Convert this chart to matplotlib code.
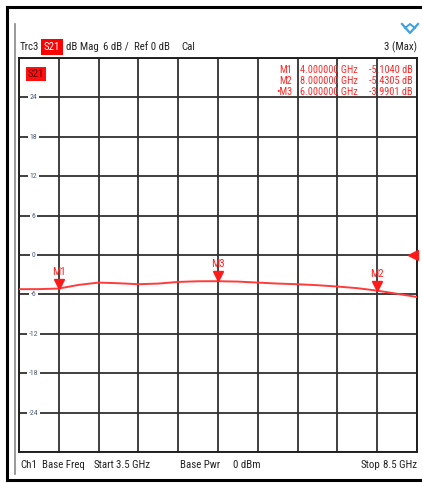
import matplotlib.pyplot as plt
import matplotlib.transforms as mtransforms
from matplotlib import font_manager
from matplotlib.lines import Line2D

# prefer a narrow face if one is installed, else Arial-metric Liberation Sans
installed = {f.name for f in font_manager.fontManager.ttflist}
narrow = next((n for n in ['Liberation Sans Narrow', 'Arial Narrow', 'Roboto Condensed']
               if n in installed), None)
if narrow:
    plt.rcParams['font.family'] = [narrow, 'DejaVu Sans']
    FS = 7.8
else:
    plt.rcParams['font.family'] = ['Liberation Sans', 'DejaVu Sans']
    FS = 6.6

W, H = 422, 483

# trace S21 (dB) vs frequency (GHz)
freq = [3.5, 3.75, 4.0, 4.25, 4.5, 4.75, 5.0, 5.25, 5.5, 5.75, 6.0,
        6.25, 6.5, 6.75, 7.0, 7.25, 7.5, 7.75, 8.0, 8.25, 8.5]
s21 = [-5.2, -5.2, -5.104, -4.55, -4.2, -4.3, -4.45, -4.35, -4.1, -4.0, -3.9901,
       -4.05, -4.2, -4.35, -4.45, -4.6, -4.8, -5.05, -5.4305, -5.9, -6.4]

marker_names = ['M1', 'M2', 'M3']
marker_freq = [4.0, 8.0, 6.0]
marker_val = [-5.1040, -5.4305, -3.9901]

yticks = [24, 18, 12, 6, 0, -6, -12, -18, -24]
f_start, f_stop = 3.5, 8.5
ref_level, db_per_div = 0, 6


def fx(x):
    return x / W


def fy(y):
    return 1 - y / H


fig = plt.figure(figsize=(W / 100, H / 100), dpi=100)
fig.patch.set_facecolor('white')

# instrument frame
fig.add_artist(Line2D([fx(7), fx(7)], [fy(7), fy(480)], color='black', lw=2.2))
fig.add_artist(Line2D([fx(7), fx(422)], [fy(7), fy(7)], color='black', lw=2.2))
fig.add_artist(Line2D([fx(7), fx(422)], [fy(480), fy(480)], color='black', lw=2.2))
fig.add_artist(Line2D([fx(14.5), fx(14.5)], [fy(24), fy(474)], color='#888888', lw=1.2))

ax = fig.add_axes([fx(19), fy(452), (417 - 19) / W, (452 - 58) / H])
ax.set_xlim(f_start, f_stop)
ax.set_ylim(ref_level - 5 * db_per_div, ref_level + 5 * db_per_div)
ax.set_xticks([f_start + i * 0.5 for i in range(11)])
ax.set_yticks([ref_level + i * db_per_div for i in range(-5, 6)])
ax.grid(True, color='#303030', lw=1.3)
ax.tick_params(length=0, labelbottom=False, labelleft=False)
for sp in ax.spines.values():
    sp.set_color('#202020')
    sp.set_linewidth(1.4)

# y tick labels drawn inside the grid
for v in yticks:
    ax.text(3.68, v, str(v), fontsize=5.6, color='#4a5a7a', ha='center', va='center',
            bbox=dict(boxstyle='square,pad=0.2', fc='white', ec='none'), zorder=3)

ax.plot(freq, s21, color='#ff3b3b', lw=1.4, zorder=4)

# markers
tip = mtransforms.offset_copy(ax.transData, fig=fig, x=0, y=3.5, units='points')
for name, f, v in zip(marker_names, marker_freq, marker_val):
    ax.plot([f], [v], marker='v', color='#ff1a1a', ms=7, transform=tip, zorder=5, clip_on=False)
    ax.annotate(name, (f, v), xytext=(0, 8.5), textcoords='offset points',
                ha='center', va='bottom', fontsize=FS, color='#ff2020', zorder=5)

# reference level arrow at right edge
ref_tr = mtransforms.offset_copy(ax.transData, fig=fig, x=-3, y=0, units='points')
ax.plot([f_stop], [ref_level], marker='<', color='#ff1a1a', ms=7, transform=ref_tr,
        clip_on=False, zorder=6)

# trace label box inside diagram
fig.text(fx(36), fy(74), 'S21', fontsize=FS, color='#5a0000', ha='center', va='center',
         bbox=dict(boxstyle='square,pad=0.2', fc='#ff1010', ec='none'), zorder=6)

# marker readout
rows = [('M1', '4.000000 GHz', '-5.1040 dB'),
        ('M2', '8.000000 GHz', '-5.4305 dB'),
        ('\u2022M3', '6.000000 GHz', '-3.9901 dB')]
for i, (m, fr, val) in enumerate(rows):
    y = fy(70 + i * 11)
    kw = dict(fontsize=FS * 0.95, color='#ff2a2a', va='center', zorder=7)
    fig.text(fx(292), y, m, ha='right', **kw)
    fig.text(fx(300), y, fr, ha='left', **kw)
    fig.text(fx(413), y, val, ha='right', **kw)

# header line
hy = fy(47)
hk = dict(fontsize=FS, color='#222222', va='center')
fig.text(fx(20), hy, 'Trc3', **hk)
fig.text(fx(52), hy, 'S21', fontsize=FS, color='white', va='center', ha='center',
         bbox=dict(boxstyle='square,pad=0.3', fc='#ff0000', ec='none'))
fig.text(fx(66), hy, 'dB Mag', **hk)
fig.text(fx(103), hy, '6 dB /', **hk)
fig.text(fx(134), hy, 'Ref 0 dB', **hk)
fig.text(fx(181), hy, 'Cal', **hk)
fig.text(fx(417), hy, '3 (Max)', ha='right', fontsize=FS, color='#222222', va='center')

# trigger icon
fig.add_artist(Line2D([fx(402), fx(410), fx(418)], [fy(24), fy(33), fy(24)],
                      color='#40a0e0', lw=1.6))
fig.add_artist(Line2D([fx(405), fx(410), fx(415)], [fy(28), fy(24), fy(28)],
                      color='#40a0e0', lw=1.4))

# footer line
by = fy(465)
fig.text(fx(20), by, 'Ch1', **hk)
fig.text(fx(42), by, 'Base Freq', **hk)
fig.text(fx(94), by, 'Start', **hk)
fig.text(fx(116), by, '3.5 GHz', **hk)
fig.text(fx(180), by, 'Base Pwr', **hk)
fig.text(fx(233), by, '0 dBm', **hk)
fig.text(fx(380), by, 'Stop', ha='right', fontsize=FS, color='#222222', va='center')
fig.text(fx(417), by, '8.5 GHz', ha='right', fontsize=FS, color='#222222', va='center')

fig.savefig('out.png', dpi=100, facecolor='white')
